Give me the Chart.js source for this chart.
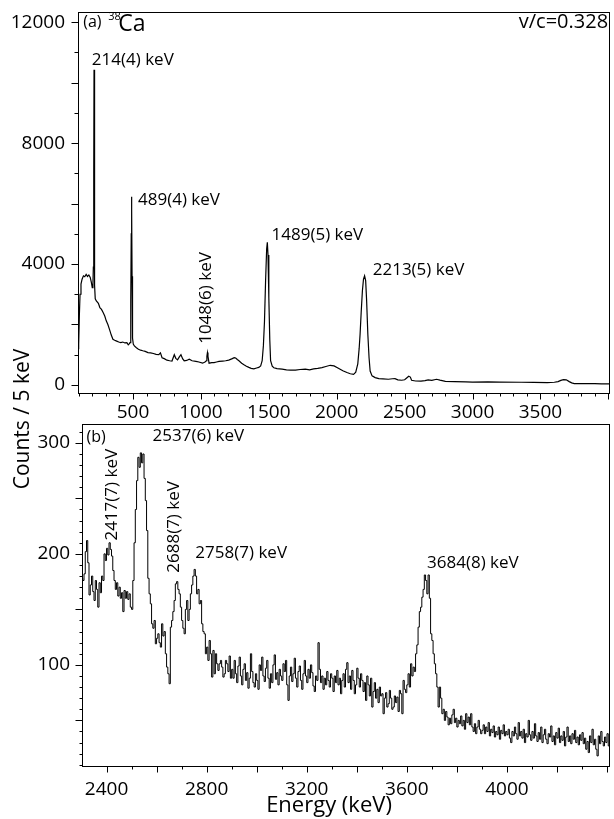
<!DOCTYPE html>
<html>
<head>
<meta charset="utf-8">
<script src="https://cdn.jsdelivr.net/npm/chart.js@4/dist/chart.umd.min.js"></script>
<style>
html,body{margin:0;padding:0;background:#fff;}
#wrap{position:relative;width:614px;height:819px;overflow:hidden;}
canvas{position:absolute;left:0;top:0;}
</style>
</head>
<body>
<div id="wrap">
<canvas id="topChart" width="614" height="819"></canvas>
<canvas id="botChart" width="614" height="819"></canvas>
</div>
<script>
// ---------------- DATA ----------------
// (a) full spectrum, energies (keV) and counts per 5 keV
const topEnergy = [95,100,105,110,117,125,135,145,155,165,175,185,193,200,205,208,211,213,215,217,219,222,230,245,256,268,280,292,303,315,328,340,352,365,380,395,410,425,440,455,465,472,478,482,485,487,489,491,493,495,498,502,510,525,540,556,572,590,610,630,650,670,690,702,714,730,750,770,787,804,815,828,840,853,866,877,895,914,935,963,985,1012,1030,1040,1044,1048,1052,1060,1080,1097,1115,1133,1160,1182,1205,1231,1245,1256,1268,1280,1300,1317,1335,1353,1370,1390,1410,1426,1440,1451,1460,1468,1476,1484,1489,1494,1500,1507,1513,1525,1537,1560,1598,1630,1660,1696,1730,1769,1800,1830,1860,1891,1920,1952,1980,2012,2045,2075,2100,2124,2140,2155,2165,2172,2180,2189,2197,2205,2213,2220,2229,2238,2246,2260,2283,2310,2340,2380,2410,2429,2450,2478,2500,2515,2530,2542,2551,2580,2620,2650,2673,2700,2735,2760,2800,2869,2950,3000,3113,3200,3358,3450,3550,3602,3630,3650,3670,3690,3712,3730,3749,3800,3846,3900,3950,4012];
const topCounts = [1200,1350,2300,3000,3340,3500,3610,3580,3660,3590,3640,3560,3400,3220,3350,3900,7000,10430,10430,6500,3300,2850,2780,2700,2560,2500,2400,2280,2120,2000,1820,1650,1510,1480,1450,1420,1400,1420,1390,1400,1330,1360,1400,1600,2800,5000,6230,5800,3600,2100,1550,1350,1290,1230,1180,1150,1130,1110,1070,1060,1040,1010,1000,1060,900,870,820,800,790,1000,880,830,920,1000,860,800,810,850,800,780,760,720,760,800,950,1070,950,720,740,740,760,780,790,800,820,870,900,890,840,800,720,670,620,580,550,530,560,580,630,800,1300,2100,3420,4500,4720,4300,2900,1500,800,620,570,540,520,500,490,490,510,520,500,530,550,575,610,650,630,555,470,410,370,350,420,700,1200,1680,2400,3115,3500,3612,3450,2800,1680,900,460,300,243,210,200,188,205,209,170,155,170,230,287,260,155,130,125,140,166,150,188,160,120,110,100,95,99,92,88,82,78,88,110,150,177,170,110,70,44,45,44,40,38,36];

// (b) zoom, 5 keV bins starting at 2300 keV
const bottomStart = 2300;
const bottomBinWidth = 5;
const bottomCounts = [
178,176,182,202,212,192,163,172,180,166,158,176,168,152,174,165,180,176,200,194,
205,199,210,204,198,185,176,168,174,162,170,160,165,148,167,160,166,159,164,152,
150,176,210,240,266,287,278,291,282,290,268,248,221,178,164,155,137,133,140,119,
124,128,120,116,137,126,130,110,98,92,83,134,140,148,158,173,175,168,164,152,
140,133,128,150,158,140,150,164,172,180,186,180,164,168,155,158,137,130,128,110,
116,104,122,110,89,113,92,110,101,95,101,104,98,89,92,104,101,94,108,88,
96,88,104,92,84,99,107,90,82,96,101,86,93,79,88,110,94,84,80,92,
86,78,100,95,107,90,85,97,104,88,79,92,84,100,109,87,93,82,96,90,
86,101,94,104,82,68,90,98,85,92,106,88,80,94,99,86,78,92,104,90,
84,96,88,100,93,81,76,90,86,120,96,84,90,78,88,82,94,86,80,92,
88,76,90,84,95,82,88,74,86,92,80,96,102,84,90,78,95,86,74,82,
97,88,80,92,86,76,84,68,90,82,72,88,62,76,84,70,78,66,80,72,
74,56,70,75,62,65,77,70,60,62,72,66,71,58,77,74,56,86,78,75,
82,92,80,101,90,98,94,110,118,134,148,152,161,168,181,176,164,181,160,128,
122,110,101,92,80,62,80,70,56,60,50,58,53,46,52,47,55,60,48,52,
44,50,47,54,45,50,42,56,48,53,46,56,44,40,47,38,44,50,42,38,
41,46,38,44,40,48,36,42,39,45,35,40,37,44,33,41,38,46,36,40,
37,42,34,30,40,36,44,38,33,48,36,40,34,42,30,38,35,50,37,32,
40,34,47,36,31,39,33,44,30,37,42,33,29,38,35,45,31,36,28,39,
34,43,30,36,32,40,27,35,44,31,36,29,38,33,41,30,35,28,37,32,
39,29,34,24,31,21,36,30,42,28,33,24,18,36,29,40,31,27,35,30,
38,27,33,29];

// tick labels
const topXLabels = [500,1000,1500,2000,2500,3000,3500];
const topYLabels = [0,4000,8000,12000];
const botXLabels = [2400,2800,3200,3600,4000];
const botYLabels = [100,200,300];

// peak labels (text + anchor in data units)
const topNotes = [
  {text:'(a)', e:133, c:12000, size:16},
  {text:'38', e:317, c:12170, size:11},
  {text:'Ca', e:392, c:11930, size:23},
  {text:'v/c=0.328', e:3998, c:12000, size:20, align:'right'},
  {text:'214(4) keV', e:197, c:10740},
  {text:'489(4) keV', e:537, c:6100},
  {text:'1048(6) keV', e:1040, c:1360, rot:true},
  {text:'1489(5) keV', e:1520, c:4940},
  {text:'2213(5) keV', e:2265, c:3810}
];
const botNotes = [
  {text:'(b)', e:2320, c:305, size:16},
  {text:'2537(6) keV', e:2584, c:306},
  {text:'2417(7) keV', e:2422, c:212, rot:true},
  {text:'2688(7) keV', e:2669, c:183, rot:true},
  {text:'2758(7) keV', e:2755, c:201},
  {text:'3684(8) keV', e:3681, c:192}
];

// ---------------- DRAWING ----------------
const FONT = "'Open Sans', 'Noto Sans', sans-serif";
const INK = '#000';

function range(a, b, s){ const r=[]; for(let v=a; v<=b+1e-9; v+=s) r.push(v); return r; }

function decorPlugin(id, cfg){
  return {
    id,
    afterDatasetsDraw(chart){
      const ctx = chart.ctx, a = chart.chartArea, xs = chart.scales.x, ys = chart.scales.y;
      ctx.save();
      ctx.strokeStyle = INK; ctx.lineWidth = 1;
      ctx.strokeRect(Math.round(a.left)+0.5, Math.round(a.top)+0.5, Math.round(a.right-a.left)-1, Math.round(a.bottom-a.top)-1);
      const bx = Math.round(a.bottom)-0.5, lx = Math.round(a.left)+0.5;
      ctx.beginPath();
      cfg.xTicks.forEach(t => t.values.forEach(v => {
        if (v < xs.min || v > xs.max) return;
        const p = Math.round(xs.getPixelForValue(v))+0.5;
        ctx.moveTo(p, bx); ctx.lineTo(p, bx + t.len);
      }));
      cfg.yTicks.forEach(t => t.values.forEach(v => {
        if (v < ys.min || v > ys.max) return;
        const p = Math.round(ys.getPixelForValue(v))+0.5;
        ctx.moveTo(lx, p); ctx.lineTo(lx - t.len, p);
      }));
      ctx.stroke();
      ctx.fillStyle = '#000';
      cfg.notes.forEach(n => {
        const px = xs.getPixelForValue(n.e), py = ys.getPixelForValue(n.c);
        ctx.save();
        ctx.font = (n.size || 17) + 'px ' + FONT;
        ctx.textAlign = n.align || 'left';
        ctx.textBaseline = 'middle';
        ctx.translate(px, py);
        if (n.rot) ctx.rotate(-Math.PI/2);
        ctx.fillText(n.text, 0, 0);
        ctx.restore();
      });
      if (cfg.extra) cfg.extra(ctx, a);
      ctx.restore();
    }
  };
}

const tickFont = {family: FONT, size: 19};

function axisX(min, max, labels, pad, height){
  return {
    type:'linear', min, max,
    grid:{display:false, drawTicks:false}, border:{display:false},
    ticks:{font:tickFont, color:'#000', padding:pad, maxRotation:0, autoSkip:false, callback:v=>String(v)},
    afterBuildTicks: s => { s.ticks = labels.map(v => ({value:v})); },
    afterFit: s => { s.height = height; s.paddingLeft = 0; s.paddingRight = 0; }
  };
}
function axisY(min, max, labels, pad, width){
  return {
    type:'linear', min, max,
    grid:{display:false, drawTicks:false}, border:{display:false},
    ticks:{font:tickFont, color:'#000', padding:pad, autoSkip:false, callback:v=>String(v)},
    afterBuildTicks: s => { s.ticks = labels.map(v => ({value:v})); },
    afterFit: s => { s.width = width; s.paddingTop = 0; s.paddingBottom = 0; }
  };
}

// top chart
new Chart(document.getElementById('topChart'), {
  type:'line',
  data:{datasets:[{
    data: topEnergy.map((e,i) => ({x:e, y:topCounts[i]})),
    borderColor: INK, borderWidth: 1.2, pointRadius: 0, tension: 0, fill:false
  }]},
  options:{
    responsive:false, animation:false, devicePixelRatio:1,
    layout:{padding:{top:12, right:4, bottom:395, left:0}},
    plugins:{legend:{display:false}, tooltip:{enabled:false}},
    scales:{
      x: axisX(95, 4012, topXLabels, 7, 30),
      y: axisY(-300, 12340, topYLabels, 13, 78)
    }
  },
  plugins:[decorPlugin('decorTop', {
    xTicks:[{values:range(100,4000,100), len:3},{values:range(500,4000,500), len:6}],
    yTicks:[{values:range(0,12000,1000), len:4},{values:range(0,12000,2000), len:7}],
    notes: topNotes
  })]
});

// bottom chart
const botPoints = bottomCounts.map((c,i) => ({x: bottomStart + i*bottomBinWidth, y:c}));
botPoints.push({x: bottomStart + bottomCounts.length*bottomBinWidth, y: bottomCounts[bottomCounts.length-1]});

new Chart(document.getElementById('botChart'), {
  type:'line',
  data:{datasets:[{
    data: botPoints, stepped: true,
    borderColor: INK, borderWidth: 1, pointRadius: 0, fill:false
  }]},
  options:{
    responsive:false, animation:false, devicePixelRatio:1,
    layout:{padding:{top:424, right:4, bottom:0, left:0}},
    plugins:{legend:{display:false}, tooltip:{enabled:false}},
    scales:{
      x: axisX(2302, 4412, botXLabels, 11, 52),
      y: axisY(8, 317, botYLabels, 12, 82)
    }
  },
  plugins:[decorPlugin('decorBot', {
    xTicks:[{values:range(2400,4400,100), len:3},{values:range(2400,4400,200), len:6}],
    yTicks:[{values:range(10,310,10), len:3},{values:range(50,300,50), len:7}],
    notes: botNotes,
    extra: (ctx, a) => {
      ctx.save();
      ctx.fillStyle = '#000';
      ctx.textAlign = 'center'; ctx.textBaseline = 'middle';
      ctx.font = '22px ' + FONT;
      ctx.fillText('Energy (keV)', 329, 806);
      ctx.font = '21px ' + FONT;
      ctx.translate(23, 419); ctx.rotate(-Math.PI/2);
      ctx.fillText('Counts / 5 keV', 0, 0);
      ctx.restore();
    }
  })]
});
</script>
</body>
</html>
